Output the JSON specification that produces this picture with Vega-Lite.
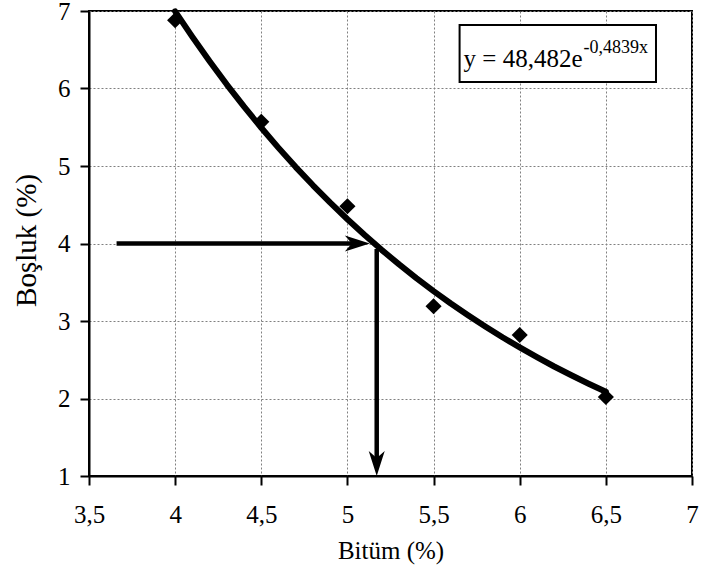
{
  "$schema": "https://vega.github.io/schema/vega-lite/v6.json",
  "width": 603,
  "height": 465,
  "autosize": {"type": "none"},
  "padding": {"left": 89, "top": 11, "right": 10, "bottom": 96},
  "background": "white",
  "config": {
    "font": "Liberation Serif, Times New Roman, DejaVu Serif, serif",
    "view": {"stroke": "black", "strokeWidth": 2},
    "text": {"font": "Liberation Serif, Times New Roman, DejaVu Serif, serif"},
    "axis": {
      "domainColor": "black",
      "domainWidth": 2,
      "tickColor": "black",
      "tickWidth": 2,
      "tickSize": 9,
      "labelColor": "black",
      "labelFont": "Liberation Serif, Times New Roman, DejaVu Serif, serif",
      "labelFontSize": 25,
      "titleFont": "Liberation Serif, Times New Roman, DejaVu Serif, serif",
      "titleFontSize": 25,
      "titleFontWeight": "normal",
      "titleColor": "black",
      "grid": true,
      "gridColor": "#808080",
      "gridDash": [2, 2],
      "gridWidth": 1,
      "labelFlush": false,
      "labelOverlap": false
    }
  },
  "datasets": {
    "curve": [
      {"bitum": 4.0, "bosluk": 6.996},
      {"bitum": 4.1, "bosluk": 6.666},
      {"bitum": 4.2, "bosluk": 6.351},
      {"bitum": 4.3, "bosluk": 6.051},
      {"bitum": 4.4, "bosluk": 5.765},
      {"bitum": 4.5, "bosluk": 5.493},
      {"bitum": 4.6, "bosluk": 5.234},
      {"bitum": 4.7, "bosluk": 4.986},
      {"bitum": 4.8, "bosluk": 4.751},
      {"bitum": 4.9, "bosluk": 4.527},
      {"bitum": 5.0, "bosluk": 4.313},
      {"bitum": 5.1, "bosluk": 4.109},
      {"bitum": 5.2, "bosluk": 3.915},
      {"bitum": 5.3, "bosluk": 3.730},
      {"bitum": 5.4, "bosluk": 3.554},
      {"bitum": 5.5, "bosluk": 3.386},
      {"bitum": 5.6, "bosluk": 3.226},
      {"bitum": 5.7, "bosluk": 3.074},
      {"bitum": 5.8, "bosluk": 2.929},
      {"bitum": 5.9, "bosluk": 2.790},
      {"bitum": 6.0, "bosluk": 2.659},
      {"bitum": 6.1, "bosluk": 2.533},
      {"bitum": 6.2, "bosluk": 2.413},
      {"bitum": 6.3, "bosluk": 2.300},
      {"bitum": 6.4, "bosluk": 2.191},
      {"bitum": 6.5, "bosluk": 2.087}
    ],
    "obs": [
      {"bitum": 4.0, "bosluk": 6.88},
      {"bitum": 4.5, "bosluk": 5.57},
      {"bitum": 5.0, "bosluk": 4.48},
      {"bitum": 5.5, "bosluk": 3.19},
      {"bitum": 6.0, "bosluk": 2.82},
      {"bitum": 6.5, "bosluk": 2.02}
    ],
    "shafts": [
      {"bitum": 3.66, "bosluk": 4.0, "bitum2": 5.06, "bosluk2": 4.0},
      {"bitum": 5.17, "bosluk": 3.93, "bitum2": 5.17, "bosluk2": 1.15}
    ],
    "headRight": [{"bitum": 5.13, "bosluk": 4.0}],
    "headDown": [{"bitum": 5.17, "bosluk": 1.0}],
    "box": [{"bitum": 5.651, "bitum2": 6.791, "bosluk": 6.819, "bosluk2": 6.084}],
    "eq": [{"bitum": 5.674, "bosluk": 6.277, "label": "y = 48,482e"}],
    "sup": [{"bitum": 6.37, "bosluk": 6.458, "label": "-0,4839x"}]
  },
  "encoding": {
    "x": {
      "field": "bitum",
      "type": "quantitative",
      "scale": {"domain": [3.5, 7], "nice": false, "zero": false},
      "axis": {
        "title": "Bitüm (%)",
        "values": [3.5, 4, 4.5, 5, 5.5, 6, 6.5, 7],
        "format": ".1~f",
        "labelExpr": "replace(datum.label, '.', ',')",
        "labelPadding": 17,
        "titleY": 82,
        "titleBaseline": "alphabetic"
      }
    },
    "y": {
      "field": "bosluk",
      "type": "quantitative",
      "scale": {"domain": [1, 7], "nice": false, "zero": false},
      "axis": {
        "title": "Boşluk (%)",
        "values": [1, 2, 3, 4, 5, 6, 7],
        "format": "d",
        "labelPadding": 10,
        "titleFontSize": 29,
        "titleX": -54,
        "titleY": 229,
        "titleBaseline": "alphabetic"
      }
    }
  },
  "layer": [
    {
      "data": {"name": "obs"},
      "mark": {"type": "point", "shape": "diamond", "filled": true, "size": 260, "color": "black", "opacity": 1}
    },
    {
      "data": {"name": "curve"},
      "mark": {"type": "line", "color": "black", "strokeWidth": 6, "strokeCap": "round", "strokeJoin": "round"}
    },
    {
      "data": {"name": "shafts"},
      "mark": {"type": "rule", "color": "black", "strokeWidth": 4.5},
      "encoding": {
        "x2": {"field": "bitum2"},
        "y2": {"field": "bosluk2"}
      }
    },
    {
      "data": {"name": "headRight"},
      "mark": {"type": "point", "shape": "M 0 0 L -5 -1.6 L -3.6 0 L -5 1.6 Z", "size": 100, "filled": true, "color": "black", "opacity": 1, "strokeWidth": 0}
    },
    {
      "data": {"name": "headDown"},
      "mark": {"type": "point", "shape": "M 0 0 L -1.6 -5 L 0 -3.6 L 1.6 -5 Z", "size": 100, "filled": true, "color": "black", "opacity": 1, "strokeWidth": 0}
    },
    {
      "data": {"name": "box"},
      "mark": {"type": "rect", "fill": "white", "stroke": "black", "strokeWidth": 2},
      "encoding": {
        "x2": {"field": "bitum2"},
        "y2": {"field": "bosluk2"}
      }
    },
    {
      "data": {"name": "eq"},
      "mark": {"type": "text", "align": "left", "baseline": "alphabetic", "fontSize": 25, "font": "Liberation Serif, Times New Roman, serif", "color": "black"},
      "encoding": {
        "text": {"field": "label"}
      }
    },
    {
      "data": {"name": "sup"},
      "mark": {"type": "text", "align": "left", "baseline": "alphabetic", "fontSize": 18, "font": "Liberation Serif, Times New Roman, serif", "color": "black"},
      "encoding": {
        "text": {"field": "label"}
      }
    }
  ]
}
